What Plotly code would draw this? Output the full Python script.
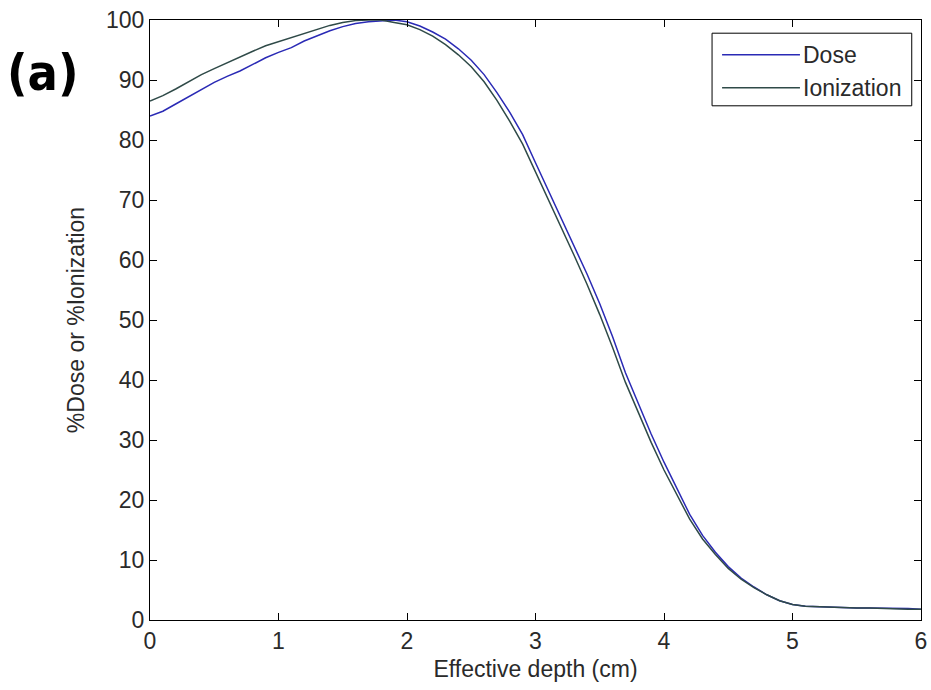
import plotly.graph_objects as go

# Effective depth (cm) sampled every 0.1 cm
depth = [round(i * 0.1, 1) for i in range(61)]

# Percent depth dose
dose = [84.0, 84.8, 86.0, 87.2, 88.4, 89.6, 90.6, 91.5, 92.6, 93.7,
        94.6, 95.4, 96.5, 97.4, 98.2, 98.9, 99.4, 99.7, 99.9, 100.0,
        99.7, 99.0, 98.0, 96.8, 95.2, 93.3, 90.9, 87.9, 84.6, 80.9,
        76.2, 71.6, 66.9, 62.3, 57.7, 52.7, 47.2, 41.2, 36.1, 31.0,
        26.3, 21.9, 17.6, 14.1, 11.3, 8.9, 7.0, 5.5, 4.2, 3.2,
        2.6, 2.3, 2.2, 2.1, 2.1, 2.0, 2.0, 2.0, 1.9, 1.9, 1.8]

# Percent depth ionization
ionization = [86.5, 87.4, 88.5, 89.7, 90.9, 91.9, 92.9, 93.9, 94.8, 95.7,
              96.4, 97.1, 97.8, 98.5, 99.1, 99.6, 99.9, 100.0, 100.0, 99.6,
              99.2, 98.4, 97.3, 95.9, 94.2, 92.2, 89.7, 86.6, 83.1, 79.3,
              74.7, 70.1, 65.4, 60.8, 56.0, 50.9, 45.4, 39.6, 34.6, 29.6,
              25.0, 20.8, 16.8, 13.5, 10.9, 8.6, 6.8, 5.4, 4.2, 3.2,
              2.6, 2.3, 2.2, 2.1, 2.0, 2.0, 2.0, 1.9, 1.9, 1.8, 1.8]

x_ticks = [0, 1, 2, 3, 4, 5, 6]
y_ticks = [0, 10, 20, 30, 40, 50, 60, 70, 80, 90, 100]

DOSE_COLOR = "#2a2ab5"
ION_COLOR = "#2f4a48"
TEXT_COLOR = "#2a2a2a"
FONT = "Liberation Sans, Arial, sans-serif"
FS = 23

fig = go.Figure()
fig.add_trace(go.Scatter(x=depth, y=dose, mode="lines", name="Dose",
                         line=dict(color=DOSE_COLOR, width=1.5), showlegend=False))
fig.add_trace(go.Scatter(x=depth, y=ionization, mode="lines", name="Ionization",
                         line=dict(color=ION_COLOR, width=1.5), showlegend=False))

axis_common = dict(showline=True, linecolor="black", linewidth=1, mirror="ticks",
                   ticks="inside", ticklen=7, tickcolor="black", tickwidth=1,
                   showgrid=False, zeroline=False, automargin=False,
                   tickfont=dict(family=FONT, size=FS, color=TEXT_COLOR))

fig.update_xaxes(range=[0, 6], tickvals=x_ticks, **axis_common,
                 title=dict(text="Effective depth (cm)", standoff=8,
                            font=dict(family=FONT, size=FS, color=TEXT_COLOR)))
fig.update_yaxes(range=[0, 100], tickvals=y_ticks, **axis_common,
                 title=dict(text="%Dose or %Ionization", standoff=14,
                            font=dict(family=FONT, size=FS, color=TEXT_COLOR)))

# Legend box drawn in the upper right of the axes
shapes = [
    dict(type="rect", xref="paper", yref="paper", x0=0.729, x1=0.988, y0=0.857, y1=0.978,
         line=dict(color="black", width=1), fillcolor="white", layer="above"),
    dict(type="line", xref="paper", yref="paper", x0=0.742, x1=0.843, y0=0.942, y1=0.942,
         line=dict(color=DOSE_COLOR, width=1.5), layer="above"),
    dict(type="line", xref="paper", yref="paper", x0=0.742, x1=0.843, y0=0.887, y1=0.887,
         line=dict(color=ION_COLOR, width=1.5), layer="above"),
]
annotations = [
    dict(text="Dose", xref="paper", yref="paper", x=0.845, y=0.942, xanchor="left",
         yanchor="middle", showarrow=False, font=dict(family=FONT, size=FS, color=TEXT_COLOR)),
    dict(text="Ionization", xref="paper", yref="paper", x=0.845, y=0.887, xanchor="left",
         yanchor="middle", showarrow=False, font=dict(family=FONT, size=FS, color=TEXT_COLOR)),
    dict(text="<b>(a)</b>", xref="paper", yref="paper", x=-0.139, y=0.912, xanchor="center",
         yanchor="middle", showarrow=False,
         font=dict(family="DejaVu Sans Condensed, DejaVu Sans, sans-serif", size=50,
                   color="black")),
]

fig.update_layout(width=931, height=690, margin=dict(l=150, r=10, t=20, b=70),
                  paper_bgcolor="white", plot_bgcolor="white",
                  shapes=shapes, annotations=annotations)

fig.write_html("out.html")
